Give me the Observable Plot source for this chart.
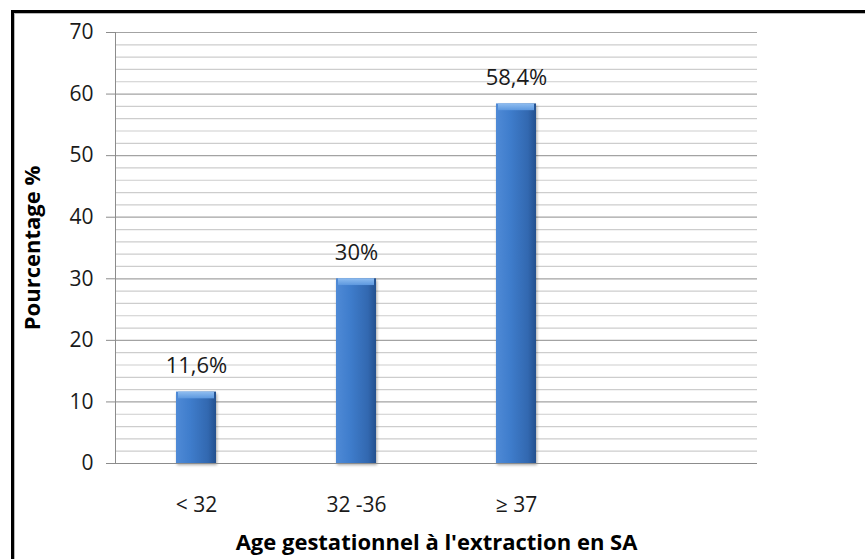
<!DOCTYPE html>
<html>
<head>
<meta charset="utf-8">
<script src="https://cdn.jsdelivr.net/npm/d3@7"></script>
<script src="https://cdn.jsdelivr.net/npm/@observablehq/plot@0.6"></script>
<style>
  html, body { margin: 0; padding: 0; background: #fff; overflow: hidden; }
  #wrap { position: relative; width: 865px; height: 559px; }
  #border {
    position: absolute; left: 11px; top: 10px; width: 900px; height: 600px;
    border-left: 3px solid #000; border-top: 3px solid #000;
    box-shadow: inset 1px 1px 0 #b8b8b8; pointer-events: none;
  }
  .chart g[aria-label="bar"] { filter: drop-shadow(1px 2px 1.5px rgba(0,0,0,0.35)); }
</style>
</head>
<body>
<div id="wrap"><div id="border"></div></div>
<script>
// Gestational age at extraction (weeks of amenorrhea)
const categories = ["< 32", "32 -36", "≥ 37", ""];
const groups = ["< 32", "32 -36", "≥ 37"];
const percents = [11.6, 30, 58.4];
const yTicks = [0, 10, 20, 30, 40, 50, 60, 70];
const yMinor = d3.range(2, 70, 2).filter(v => v % 10 !== 0);
const xTitle = "Age gestationnel à l'extraction en SA";
const yTitle = "Pourcentage %";

const data = groups.map((g, i) => ({group: g, value: percents[i]}));
const fmt = v => String(v).replace(".", ",") + "%";

const font = "'Open Sans', 'DejaVu Sans', sans-serif";
const barInset = 60;

// Gradient definitions for the bevelled bars
const defs = () => {
  const g = d3.create("svg:defs");
  const body = g.append("linearGradient").attr("id", "barBody")
    .attr("x1", 0).attr("x2", 1).attr("y1", 0).attr("y2", 0);
  body.append("stop").attr("offset", "0%").attr("stop-color", "#4f8ad6");
  body.append("stop").attr("offset", "35%").attr("stop-color", "#3f7dcc");
  body.append("stop").attr("offset", "80%").attr("stop-color", "#3268b0");
  body.append("stop").attr("offset", "100%").attr("stop-color", "#23508e");
  const top = g.append("linearGradient").attr("id", "barTop")
    .attr("x1", 0).attr("x2", 0).attr("y1", 0).attr("y2", 1);
  top.append("stop").attr("offset", "0%").attr("stop-color", "#8fbdf0");
  top.append("stop").attr("offset", "100%").attr("stop-color", "#5d98df");
  return g.node();
};

const chart = Plot.plot({
  className: "chart",
  width: 865,
  height: 559,
  marginLeft: 115,
  marginRight: 108,
  marginTop: 32,
  marginBottom: 96,
  style: {fontFamily: font, background: "transparent", color: "#1a1a1a"},
  x: {domain: categories, padding: 0, label: null},
  y: {domain: [0, 70], label: null},
  marks: [
    defs,
    Plot.ruleY(yMinor, {stroke: "#cdcdcd", strokeWidth: 1.2}),
    Plot.ruleY(yTicks.filter(v => v > 0), {stroke: "#a3a3a3", strokeWidth: 1.2}),
    Plot.axisY({ticks: yTicks, tickSize: 9, tickPadding: 13, fontSize: 21, stroke: "#8c8c8c", label: null}),
    Plot.axisX({tickSize: 0, tickPadding: 34, fontSize: 21, label: null}),
    Plot.barY(data, {x: "group", y: "value", fill: "url(#barBody)", insetLeft: barInset, insetRight: barInset}),
    Plot.rectY(data, {x: "group", y1: d => d.value - 1.1, y2: "value", fill: "url(#barTop)", insetLeft: barInset + 2, insetRight: barInset + 2}),
    Plot.ruleY([0], {stroke: "#8c8c8c", strokeWidth: 1.2}),
    Plot.frame({anchor: "left", stroke: "#8c8c8c"}),
    Plot.text(data, {x: "group", y: "value", text: d => fmt(d.value), dy: -19, lineAnchor: "bottom", fontSize: 22, fill: "#1a1a1a"}),
    Plot.text([xTitle], {frameAnchor: "bottom", text: d => d, dy: 79, lineAnchor: "middle", textAnchor: "middle", fontSize: 22, fontWeight: "bold", fill: "#000"}),
    Plot.text([yTitle], {frameAnchor: "left", text: d => d, dx: -83, rotate: -90, lineAnchor: "middle", textAnchor: "middle", fontSize: 22, fontWeight: "bold", fill: "#000"})
  ]
});

document.getElementById("wrap").prepend(chart);
</script>
</body>
</html>
